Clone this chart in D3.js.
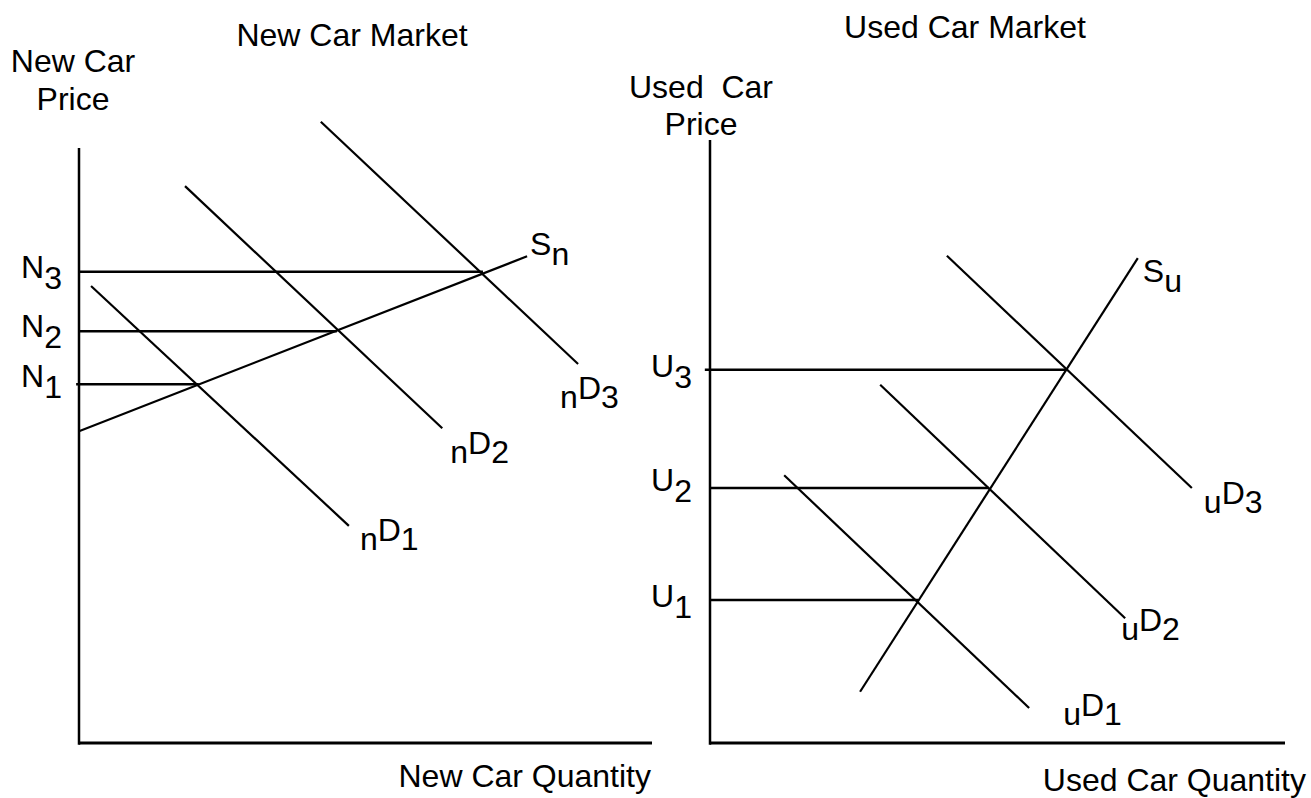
<!DOCTYPE html>
<html>
<head>
<meta charset="utf-8">
<script src="https://cdn.jsdelivr.net/npm/d3@7"></script>
<style>
  html, body { margin: 0; padding: 0; background: #fff; }
  svg { display: block; }
  text { font-family: "Liberation Sans", Arial, sans-serif; fill: #000; }
</style>
</head>
<body>
<svg id="chart" width="1311" height="798"></svg>
<script>
// ---------------- DATA (model units: quantity 0..10, price 0..10) ----------------
// New car market
const newTitle = "New Car Market";
const newYLabel = ["New Car", "Price"];
const newXLabel = "New Car Quantity";
const newLevelNames = ["1", "2", "3"];          // N1, N2, N3
const newLevelPrice = [6.03, 6.92, 7.92];
const newLevelQty = [2.09, 4.50, 7.05];
const newLevelStart = [-0.05, 0, 0];
const newSupply = [[0, 5.24], [7.82, 8.18]];
const newDemandNames = ["1", "2", "3"];
const newDemand1 = [[0.21, 7.68], [4.71, 3.65]];
const newDemand2 = [[1.85, 9.36], [6.34, 5.29]];
const newDemand3 = [[4.22, 10.44], [8.71, 6.37]];

// Used car market
const usedTitle = "Used Car Market";
const usedYLabel = ["Used\u00a0 Car", "Price"];
const usedXLabel = "Used Car Quantity";
const usedLevelNames = ["1", "2", "3"];         // U1, U2, U3
const usedLevelPrice = [2.37, 4.23, 6.19];
const usedLevelQty = [3.62, 4.85, 6.19];
const usedLevelStart = [0, 0, -0.09];
const usedSupply = [[2.61, 0.85], [7.44, 8.04]];
const usedDemandNames = ["1", "2", "3"];
const usedDemand1 = [[1.29, 4.44], [5.55, 0.58]];
const usedDemand2 = [[2.96, 5.94], [7.22, 2.07]];
const usedDemand3 = [[4.12, 8.08], [8.38, 4.23]];

// ---------------- LAYOUT ----------------
const svg = d3.select("#chart");
const FS = 32;

const panels = [
  {
    x: d3.scaleLinear().domain([0, 10]).range([79, 652]),
    y: d3.scaleLinear().domain([0, 10]).range([743, 148]),
    title: newTitle, titlePos: [352, 46],
    yLabel: newYLabel, yLabelPos: [73, 72, 110],
    xLabel: newXLabel, xLabelPos: [651, 787],
    levelLetter: "N", levelNames: newLevelNames, levelPrice: newLevelPrice,
    levelQty: newLevelQty, levelStart: newLevelStart, levelLabelX: 62, levelLabelDy: [3, 6, 6],
    supply: newSupply, supplyLetter: "S", supplySub: "n", supplyOff: [3, -1],
    demands: [newDemand1, newDemand2, newDemand3], demandNames: newDemandNames, demandPre: "n",
    demandOff: [[11, 24], [8, 35], [-18, 44]]
  },
  {
    x: d3.scaleLinear().domain([0, 10]).range([710, 1285]),
    y: d3.scaleLinear().domain([0, 10]).range([743, 140]),
    title: usedTitle, titlePos: [965, 38],
    yLabel: usedYLabel, yLabelPos: [701, 98, 135],
    xLabel: usedXLabel, xLabelPos: [1306, 791],
    levelLetter: "U", levelNames: usedLevelNames, levelPrice: usedLevelPrice,
    levelQty: usedLevelQty, levelStart: usedLevelStart, levelLabelX: 692, levelLabelDy: [7, 3, 7],
    supply: usedSupply, supplyLetter: "S", supplySub: "u", supplyOff: [5, 24],
    demands: [usedDemand1, usedDemand2, usedDemand3], demandNames: usedDemandNames, demandPre: "u",
    demandOff: [[34, 17], [-4, 22], [12, 25]]
  }
];

const line = (x, y) => d3.line().x(d => x(d[0])).y(d => y(d[1]));

panels.forEach(p => {
  const g = svg.append("g");
  const L = line(p.x, p.y);

  // axes
  g.append("path").attr("d", L([[0, 10], [0, -0.03]]))
    .attr("stroke", "#000").attr("stroke-width", 2.5).attr("fill", "none");
  g.append("path").attr("d", L([[0, 0], [10, 0]]))
    .attr("stroke", "#000").attr("stroke-width", 3).attr("fill", "none");

  // price level lines
  p.levelPrice.forEach((v, i) => {
    g.append("path").attr("d", L([[p.levelStart[i], v], [p.levelQty[i], v]]))
      .attr("stroke", "#000").attr("stroke-width", 2.5).attr("fill", "none");
    const t = g.append("text")
      .attr("x", p.levelLabelX).attr("y", p.y(v) + p.levelLabelDy[i])
      .attr("text-anchor", "end").style("font-size", FS + "px");
    t.append("tspan").text(p.levelLetter);
    t.append("tspan").attr("dy", 11).text(p.levelNames[i]);
  });

  // supply
  g.append("path").attr("d", L(p.supply))
    .attr("stroke", "#000").attr("stroke-width", 2.2).attr("fill", "none");
  const se = p.supply[1];
  const st = g.append("text")
    .attr("x", p.x(se[0]) + p.supplyOff[0]).attr("y", p.y(se[1]) + p.supplyOff[1])
    .style("font-size", FS + "px");
  st.append("tspan").text(p.supplyLetter);
  st.append("tspan").attr("dy", 10).text(p.supplySub);

  // demand curves
  p.demands.forEach((d, i) => {
    g.append("path").attr("d", L(d))
      .attr("stroke", "#000").attr("stroke-width", 2.2).attr("fill", "none");
    const e = d[1];
    const t = g.append("text")
      .attr("x", p.x(e[0]) + p.demandOff[i][0]).attr("y", p.y(e[1]) + p.demandOff[i][1])
      .style("font-size", FS + "px");
    t.append("tspan").text(p.demandPre);
    t.append("tspan").attr("dy", -9).text("D");
    t.append("tspan").attr("dy", 9).text(p.demandNames[i]);
  });

  // titles and axis labels
  g.append("text").attr("x", p.titlePos[0]).attr("y", p.titlePos[1])
    .attr("text-anchor", "middle").style("font-size", FS + "px").text(p.title);
  g.append("text").attr("x", p.yLabelPos[0]).attr("y", p.yLabelPos[1])
    .attr("text-anchor", "middle").style("font-size", FS + "px").text(p.yLabel[0]);
  g.append("text").attr("x", p.yLabelPos[0]).attr("y", p.yLabelPos[2])
    .attr("text-anchor", "middle").style("font-size", FS + "px").text(p.yLabel[1]);
  g.append("text").attr("x", p.xLabelPos[0]).attr("y", p.xLabelPos[1])
    .attr("text-anchor", "end").style("font-size", FS + "px").text(p.xLabel);
});
</script>
</body>
</html>
